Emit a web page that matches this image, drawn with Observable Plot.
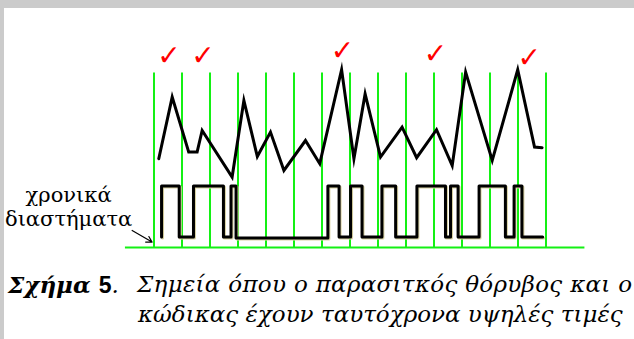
<!DOCTYPE html>
<html><head><meta charset="utf-8">
<script src="https://cdn.jsdelivr.net/npm/d3@7"></script>
<script src="https://cdn.jsdelivr.net/npm/@observablehq/plot@0.6"></script>
<style>
html,body{margin:0;padding:0;background:#fff;width:634px;height:339px;overflow:hidden;position:relative;}
#chart{position:absolute;left:0;top:0;}
.band{position:absolute;background:#cbcbcb;}
.cap{position:absolute;white-space:nowrap;font-family:"DejaVu Serif","Liberation Serif",serif;font-style:italic;font-size:23px;line-height:25px;color:#000;}
.fig{font-weight:bold;}
.num{font-family:"Liberation Sans",sans-serif;font-style:normal;font-weight:bold;}
</style></head><body>
<div id="chart"></div>
<div class="band" style="left:0;top:0;width:634px;height:8px"></div>
<div class="band" style="left:0;top:0;width:4px;height:339px"></div>
<div class="cap" id="figLabel" style="left:8px;top:272px"></div>
<div class="cap" id="cap1" style="left:137px;top:272px;letter-spacing:0.3px"></div>
<div class="cap" id="cap2" style="left:138px;top:302px"></div>
<script>
// time axis: green interval markers at t = 0..14
const gridT = [0,1,2,3,4,5,6,7,8,9,10,11,12,13,14];
const gridTop = 8.72;
const baseSpan = [-1.02, 15.39];

// parasitic noise (black zig-zag)
const noiseT = [0.17,0.65,1.24,1.54,1.72,2.79,3.21,3.69,4.16,4.64,5.41,5.92,6.70,7.14,7.54,8.09,8.86,9.38,10.09,10.65,11.13,12.08,12.99,13.59,13.86];
const noiseV = [4.44,7.52,4.77,4.77,5.85,3.52,7.35,4.55,5.77,3.85,5.35,4.19,8.89,4.44,7.68,4.52,6.02,4.49,5.89,4.10,8.77,4.35,8.89,5.02,4.99];

// code (square wave) – edge times and level after each edge
const codeT = [0.27,0.27,0.90,1.41,2.48,2.75,2.93,6.21,6.61,7.02,7.43,8.14,8.63,9.39,10.41,10.59,10.86,11.61,12.55,12.86,13.14,13.88];
const codeV = [0.53,3.08,0.53,3.08,0.53,3.08,0.48,3.08,0.53,3.08,0.53,3.08,0.53,3.08,0.53,3.08,0.53,3.08,0.53,3.08,0.53,0.53];

// red check marks (points where both are high)
const checkT = [0.39,1.61,6.59,9.91,13.26];
const checkV = [9.27,9.27,9.52,9.40,9.20];

// side label and arrow
const labelLines = ["χρονικά","διαστήματα"];
const labelT = [-3.05,-3.05];
const labelV = [2.27,1.10];
const arrowFrom = [-0.78,0.85];
const arrowTo = [-0.07,0.27];

// caption
const figText = "Σχήμα";
const figNum = "5";
const captionLines = ["Σημεία όπου ο παρασιτκός θόρυβος και ο","κώδικας έχουν ταυτόχρονα υψηλές τιμές"];

const noise = noiseT.map((t,i)=>({t, v: noiseV[i]}));
const code = codeT.map((t,i)=>({t, v: codeV[i]}));
const checks = checkT.map((t,i)=>({t, v: checkV[i]}));
const labels = labelLines.map((s,i)=>({s, t: labelT[i], v: labelV[i]}));
const arrows = [{x1: arrowFrom[0], y1: arrowFrom[1], x2: arrowTo[0], y2: arrowTo[1]}];

const green = "#14f014";
const chart = Plot.plot({
  width: 634, height: 250,
  margin: 0,
  x: {domain:[0,14], range:[153.5,545.5], axis:null},
  y: {domain:[0,10], range:[247,47], axis:null},
  style: {background:"transparent", overflow:"visible"},
  marks: [
    Plot.ruleX(gridT, {x: d=>d, y1: 0, y2: gridTop, stroke: green, strokeWidth: 2}),
    Plot.ruleY([0], {x1: baseSpan[0], x2: baseSpan[1], stroke: green, strokeWidth: 2}),
    Plot.line(code, {x:"t", y:"v", curve:"step-after", stroke:"#d9d2a2", strokeWidth:3, dx:1, dy:1}),
    Plot.line(code, {x:"t", y:"v", curve:"step-after", stroke:"#000", strokeWidth:3}),
    Plot.line(noise, {x:"t", y:"v", stroke:"#000", strokeWidth:3, strokeLinejoin:"miter", strokeMiterlimit:10}),
    Plot.text(checks, {x:"t", y:"v", text: ()=>"✓", fill:"#ff0000", fontSize:28, fontFamily:"DejaVu Sans", fontWeight:"bold", lineAnchor:"bottom", textAnchor:"middle", dx:4, dy:3}),
    Plot.text(labels, {x:"t", y:"v", text:"s", fill:"#000", fontSize:21, fontFamily:"DejaVu Serif, Liberation Serif, serif", lineAnchor:"bottom", textAnchor:"middle"}),
    Plot.arrow(arrows, {x1:"x1", y1:"y1", x2:"x2", y2:"y2", stroke:"#000", strokeWidth:1.2, headLength:8})
  ]
});
document.getElementById("chart").appendChild(chart);
document.getElementById("figLabel").innerHTML = '<span class="fig">' + figText + ' <span class="num">' + figNum + '</span></span>.';
document.getElementById("cap1").textContent = captionLines[0];
document.getElementById("cap2").textContent = captionLines[1];
</script>
</body></html>
